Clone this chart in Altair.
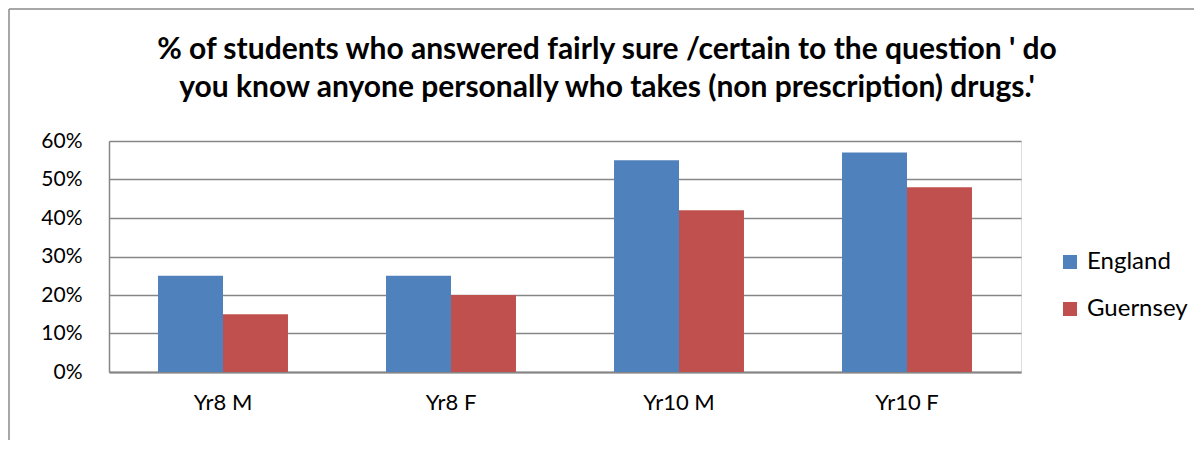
import altair as alt
import pandas as pd

categories = ["Yr8 M", "Yr8 F", "Yr10 M", "Yr10 F"]
series = ["England", "Guernsey"]
england = [0.25, 0.25, 0.55, 0.57]
guernsey = [0.15, 0.20, 0.42, 0.48]
colors = ["#4F81BD", "#C0504D"]
title_lines = [
    "% of students who answered fairly sure /certain to the question ' do",
    "you know anyone personally who takes (non prescription) drugs.'",
]

rows = []
for c, e, g in zip(categories, england, guernsey):
    rows.append({"cat": c, "series": "England", "value": e})
    rows.append({"cat": c, "series": "Guernsey", "value": g})
df = pd.DataFrame(rows)

FONT = "Lato"
GRID = "#868686"

bars = alt.Chart(df).mark_bar().encode(
    x=alt.X("cat:N", sort=categories, title=None,
            scale=alt.Scale(paddingInner=0.43, paddingOuter=0.215),
            axis=alt.Axis(labelAngle=0, ticks=False, labelPadding=20,
                          labelFontSize=22, labelFont=FONT, labelColor="#000000",
                          domainColor=GRID, domainWidth=2)),
    xOffset=alt.XOffset("series:N", sort=series),
    y=alt.Y("value:Q", title=None,
            scale=alt.Scale(domain=[0, 0.6], nice=False),
            axis=alt.Axis(format="%", values=[0, 0.1, 0.2, 0.3, 0.4, 0.5, 0.6],
                          ticks=False, labelPadding=27, labelFontSize=21,
                          labelFont=FONT, labelColor="#000000",
                          domainColor=GRID, domainWidth=1.5,
                          grid=True, gridColor=GRID, gridWidth=1.5)),
    color=alt.Color("series:N", sort=series, title=None,
                    scale=alt.Scale(domain=series, range=colors),
                    legend=alt.Legend(orient="none", legendX=949, legendY=109,
                                      symbolType="square", symbolSize=196,
                                      symbolStrokeWidth=0,
                                      labelFontSize=24, labelFont=FONT,
                                      labelColor="#000000", rowPadding=23,
                                      labelOffset=5)),
)

one = pd.DataFrame({"a": [0]})
left_border = alt.Chart(one).mark_rule(color="#8a8a8a", strokeWidth=1.5).encode(
    x=alt.value(-100), y=alt.value(-132), y2=alt.value(299))
top_border = alt.Chart(one).mark_rule(color="#8a8a8a", strokeWidth=1.5).encode(
    x=alt.value(-100), x2=alt.value(1085), y=alt.value(-132))
title1 = alt.Chart(one).mark_text(
    font=FONT, fontSize=30, fontWeight="bold", color="#000000",
    align="center", baseline="alphabetic").encode(
    x=alt.value(498), y=alt.value(-82), text=alt.value(title_lines[0]))
title2 = alt.Chart(one).mark_text(
    font=FONT, fontSize=30, fontWeight="bold", color="#000000",
    align="center", baseline="alphabetic").encode(
    x=alt.value(498), y=alt.value(-44), text=alt.value(title_lines[1]))

chart = alt.layer(left_border, top_border, title1, title2, bars).properties(
    width=912, height=231,
).configure_view(stroke=None).configure(padding=0, background="white")

chart.save("out.html", embed_options={"renderer": "svg", "actions": False})
